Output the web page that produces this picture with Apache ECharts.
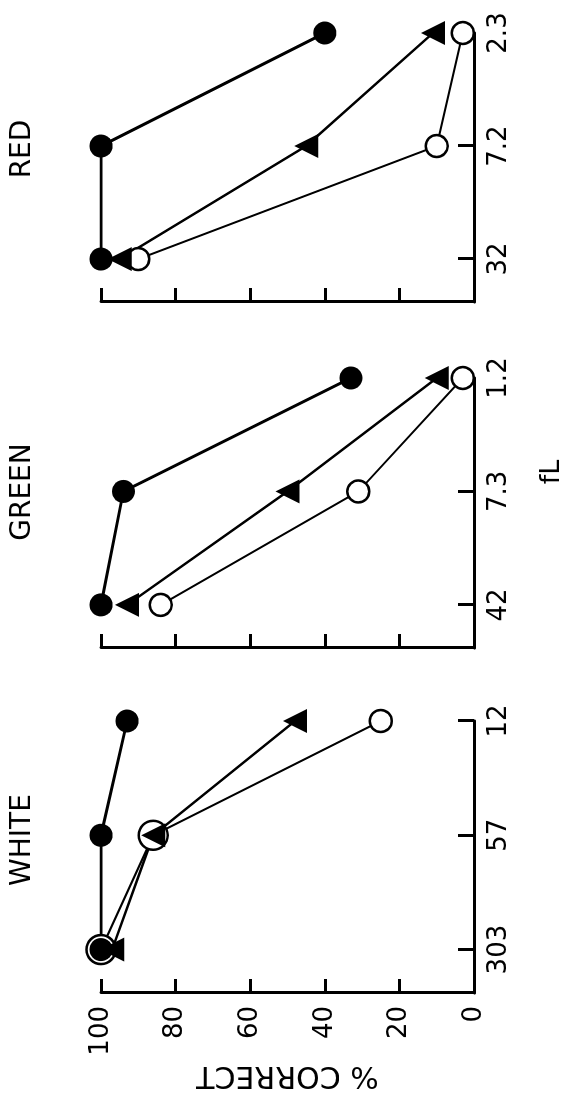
<!DOCTYPE html>
<html lang="en">
<head>
    <meta charset="UTF-8">
    <title>% correct vs fL</title>
    <script src="https://cdn.jsdelivr.net/npm/echarts@6/dist/echarts.min.js"></script>
    <style type="text/css">
        html, body {
            margin: 0;
            padding: 0;
            overflow: hidden;
            background: #fff;
        }
        /* chart is drawn landscape and turned a quarter turn to the left */
        #main {
            position: absolute;
            left: 0;
            top: 0;
            width: 1103px;
            height: 573px;
            transform-origin: 0 0;
            transform: translateY(1103px) rotate(-90deg);
        }
    </style>
</head>
<body>

<div id="main"></div>

<script>
    // fL categories per panel
    var whiteCats = ['303', '57', '12'];
    var greenCats = ['42', '7.3', '1.2'];
    var redCats = ['32', '7.2', '2.3'];

    // % correct, filled circles
    var whiteFilled = [100, 100, 93];
    var greenFilled = [100, 94, 33];
    var redFilled = [100, 100, 40];

    // % correct, triangles
    var whiteTri = [97, 86, 48];
    var greenTri = [93, 50, 10];
    var redTri = [95, 45, 11];

    // % correct, open circles
    var whiteOpen = [100, 86, 25];
    var greenOpen = [84, 31, 3];
    var redOpen = [90, 10, 3];

    var valueTicks = [0, 20, 40, 60, 80, 100];
    var panelNames = ['WHITE', 'GREEN', 'RED'];

    var fontFamily = 'DejaVu Sans';
    var grids = [
        {left: 110, width: 272, top: 101, bottom: 99},
        {left: 455, width: 270, top: 101, bottom: 99},
        {left: 801, width: 269, top: 101, bottom: 99}
    ];
    var allCats = [whiteCats, greenCats, redCats];

    function pairs(vals) {
        return vals.map(function (v, i) {
            return [i, v];
        });
    }

    var xAxes = [];
    var yAxes = [];
    for (var k = 0; k < 3; k++) {
        (function (cats, idx) {
            xAxes.push({
                gridIndex: idx,
                type: 'value',
                min: -0.38,
                max: cats.length - 1,
                splitLine: {show: false},
                axisLine: {onZero: false, lineStyle: {color: '#000', width: 3}},
                axisTick: {
                    inside: true,
                    length: 16,
                    lineStyle: {color: '#000', width: 3},
                    customValues: cats.map(function (c, i) { return i; })
                },
                axisLabel: {
                    margin: 12,
                    color: '#000',
                    fontSize: 26,
                    fontFamily: fontFamily,
                    customValues: cats.map(function (c, i) { return i; }),
                    formatter: function (v) {
                        return cats[Math.round(v)];
                    }
                }
            });
            yAxes.push({
                gridIndex: idx,
                type: 'value',
                min: valueTicks[0],
                max: valueTicks[valueTicks.length - 1],
                interval: 20,
                splitLine: {show: false},
                axisLine: {show: true, onZero: false, lineStyle: {color: '#000', width: 3}},
                axisTick: {show: true, inside: true, length: 14, lineStyle: {color: '#000', width: 3}},
                axisLabel: {
                    show: idx === 0,
                    margin: 13,
                    color: '#000',
                    fontSize: 26,
                    fontFamily: fontFamily
                },
                name: idx === 0 ? '% CORRECT' : '',
                nameLocation: 'middle',
                nameRotate: 90,
                nameGap: 62,
                nameTextStyle: {color: '#000', fontSize: 30, fontFamily: fontFamily}
            });
        })(allCats[k], k);
    }

    var filled = [whiteFilled, greenFilled, redFilled];
    var tri = [whiteTri, greenTri, redTri];
    var open = [whiteOpen, greenOpen, redOpen];

    var series = [];
    for (var p = 0; p < 3; p++) {
        // open circles first so the other markers sit on top
        series.push({
            type: 'line',
            xAxisIndex: p,
            yAxisIndex: p,
            data: pairs(open[p]),
            symbol: 'circle',
            symbolSize: p === 0 ? function (v, prm) { return prm.dataIndex < 2 ? 29 : 22; } : 22,
            itemStyle: {color: '#fff', borderColor: '#000', borderWidth: 2.5},
            lineStyle: {color: '#000', width: 2}
        });
        series.push({
            type: 'line',
            xAxisIndex: p,
            yAxisIndex: p,
            data: pairs(tri[p]),
            symbol: 'triangle',
            symbolSize: 24,
            itemStyle: {color: '#000'},
            lineStyle: {color: '#000', width: 2.5}
        });
        series.push({
            type: 'line',
            xAxisIndex: p,
            yAxisIndex: p,
            data: pairs(filled[p]),
            symbol: 'circle',
            symbolSize: 23,
            itemStyle: {color: '#000'},
            lineStyle: {color: '#000', width: 3}
        });
    }

    // panel names and the fL label
    var titleX = [263, 611, 954];
    var graphics = panelNames.map(function (n, i) {
        return {
            type: 'text',
            x: titleX[i],
            y: 23,
            style: {
                text: n,
                fill: '#000',
                font: '28px "' + fontFamily + '"',
                align: 'center',
                verticalAlign: 'middle'
            }
        };
    });
    graphics.push({
        type: 'text',
        x: 631,
        y: 552,
        style: {
            text: 'fL',
            fill: '#000',
            font: '27px "' + fontFamily + '"',
            align: 'center',
            verticalAlign: 'middle'
        }
    });

    var myChart = echarts.init(document.getElementById('main'));
    var option = {
        animation: false,
        backgroundColor: '#fff',
        grid: grids,
        xAxis: xAxes,
        yAxis: yAxes,
        series: series,
        graphic: graphics
    };
    myChart.setOption(option);
</script>

</body>
</html>
